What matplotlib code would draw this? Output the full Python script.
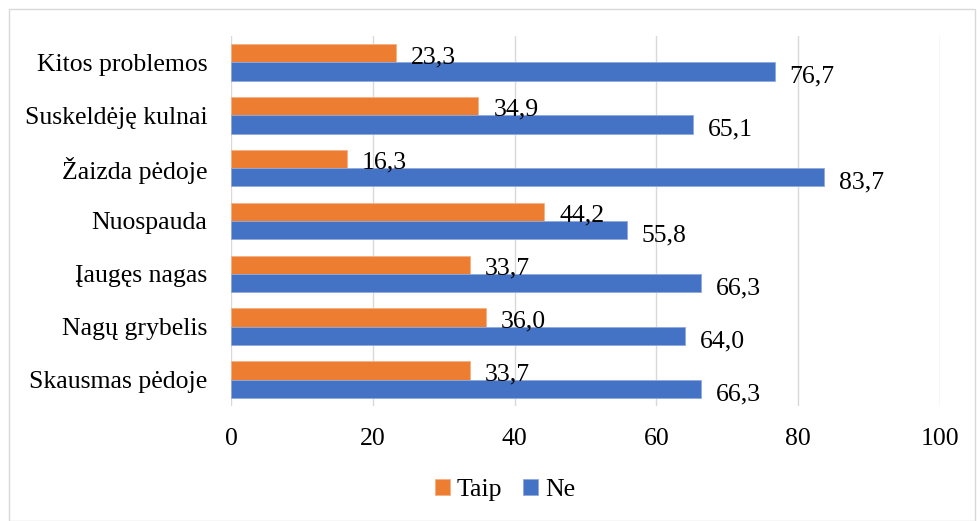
import matplotlib
matplotlib.use("Agg")
import matplotlib.pyplot as plt
import numpy as np
from matplotlib.patches import Rectangle

categories = ["Skausmas pėdoje", "Nagų grybelis", "Įaugęs nagas", "Nuospauda",
              "Žaizda pėdoje", "Suskeldėję kulnai", "Kitos problemos"]
taip = [33.7, 36.0, 33.7, 44.2, 16.3, 34.9, 23.3]
ne = [66.3, 64.0, 66.3, 55.8, 83.7, 65.1, 76.7]
xticks = [0, 20, 40, 60, 80, 100]

plt.rcParams['font.family'] = ['Liberation Serif', 'DejaVu Serif']
W, H = 977, 521
fig = plt.figure(figsize=(W/100, H/100), dpi=100)
ax = fig.add_axes([231/W, 1-406/H, (940-231)/W, (406-36)/H])

y = np.arange(len(categories))
h = 0.345
orange = "#ED7D31"
blue = "#4472C4"
bt = ax.barh(y + h/2, taip, height=h, color=orange, edgecolor="#F4B183", linewidth=0.6, label="Taip", zorder=3)
bn = ax.barh(y - h/2, ne, height=h, color=blue, edgecolor="#8FAADC", linewidth=0.6, label="Ne", zorder=3)

fs = 18.5
def fmt(v):
    return f"{v:.1f}".replace(".", ",")
for yi, v in zip(y, taip):
    ax.text(v + 2.1, yi + h/2 - 0.07, fmt(v), va="center", ha="left", fontsize=fs, zorder=4)
for yi, v in zip(y, ne):
    ax.text(v + 2.1, yi - h/2 - 0.1, fmt(v), va="center", ha="left", fontsize=fs, zorder=4)

ax.set_xlim(0, 100)
ax.set_ylim(-0.5, 6.5)
ax.set_xticks(xticks)
ax.set_xticklabels([str(t) for t in xticks], fontsize=fs)
ax.set_yticks(y)
ax.set_yticklabels(categories, fontsize=fs)
ax.tick_params(axis="both", length=0)
ax.tick_params(axis="y", pad=17)
ax.tick_params(axis="x", pad=16)
ax.xaxis.grid(True, color="#D9D9D9", linewidth=1.0, zorder=0)
ax.set_axisbelow(True)
for s in ax.spines.values():
    s.set_visible(False)

leg = fig.legend(handles=[bt, bn], labels=["Taip", "Ne"], loc="center",
                 bbox_to_anchor=(505/W, 1-490/H), ncol=2, frameon=False,
                 fontsize=fs, handlelength=0.6, handleheight=0.6,
                 handletextpad=0.25, columnspacing=0.8)

fig.patches.append(Rectangle((9/W, 0), (W-11)/W, 1-9/H, transform=fig.transFigure,
                             fill=False, edgecolor="#D9D9D9", linewidth=1.0))
fig.savefig("out.png", dpi=100)
